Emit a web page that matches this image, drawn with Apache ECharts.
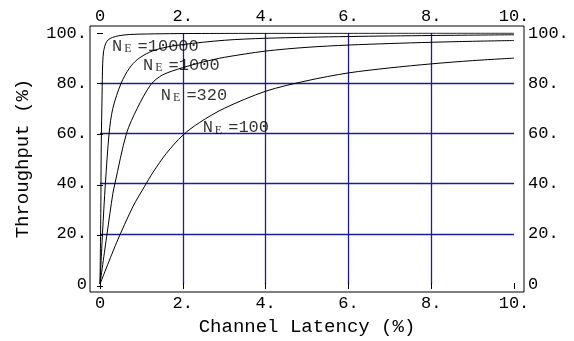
<!DOCTYPE html>
<html>
<head>
<meta charset="utf-8">
<script src="https://cdn.jsdelivr.net/npm/echarts@6/dist/echarts.min.js"></script>
<style>
html, body { margin: 0; padding: 0; background: #fff; }
#chart { width: 574px; height: 341px; }
</style>
</head>
<body>
<div id="chart"></div>
<script>
// curves, [latency, throughput]
var ne10000 = [[0, 0], [0.02, 30], [0.03, 55], [0.05, 75], [0.065, 88], [0.09, 93], [0.14, 95.9], [0.2, 97.3], [0.3, 98.2], [0.45, 98.9], [0.71, 99.4], [1.5, 99.7], [3, 99.85], [6, 99.9], [10, 99.95]];
var ne1000 = [[0, 0], [0.06, 20], [0.13, 40], [0.22, 60], [0.31, 70], [0.51, 80], [0.71, 86], [0.9, 89.4], [1.19, 92.3], [1.5, 94], [2, 95.4], [3, 97.1], [4, 97.9], [6, 98.6], [8, 99], [10, 99.3]];
var ne320 = [[0, 0], [0.17, 20], [0.31, 36], [0.36, 40], [0.64, 60], [0.9, 70], [1.23, 79.5], [1.51, 83.3], [2, 86.2], [2.5, 88.5], [3, 90.3], [4, 92.8], [5, 94.3], [6, 95.2], [7, 95.8], [8, 96.3], [9, 96.7], [10, 97]];
var ne100 = [[0, 0], [0.4, 16.5], [0.8, 31], [1.08, 39], [1.28, 44.5], [1.6, 52], [2, 59.3], [2.41, 64.4], [3, 70], [4, 76.8], [5, 81], [6, 84.1], [7, 86.1], [8, 87.7], [9, 89], [10, 90]];

var curveNames = ['10000', '1000', '320', '100'];
// where each N_E label starts, in data units
var labelX = [0.29, 1.04, 1.47, 2.48];
var labelY = [94.7, 87.2, 75.3, 62.3];

var xTicks = [0, 2, 4, 6, 8, 10];
var xTickLabels = ['0', '2.', '4.', '6.', '8.', '10.'];
var yTicks = [0, 20, 40, 60, 80, 100];
var yTickLabels = ['0', '20.', '40.', '60.', '80.', '100.'];

var myChart = echarts.init(document.getElementById('chart'));

var mono = 'Liberation Mono';
var gridBlue = '#1c1c96';

// plot area and the frame around it (frame is padded a little)
var plot = { left: 100, top: 33, right: 60, bottom: 55 };
var frame = { left: 90, top: 26, right: 50, bottom: 49 };
var plotW = 574 - plot.left - plot.right;
var plotH = 341 - plot.top - plot.bottom;
var xPad0 = (plot.left - frame.left) / plotW * 10;
var xPad1 = (plot.right - frame.right) / plotW * 10;
var yPad0 = (plot.bottom - frame.bottom) / plotH * 100;
var yPad1 = (plot.top - frame.top) / plotH * 100;

function xLabel(v) {
  return xTickLabels[xTicks.indexOf(v)];
}
function yLabel(v) {
  return yTickLabels[yTicks.indexOf(v)];
}

var tickText = { color: '#000', fontFamily: mono, fontSize: 17 };
var frameTick = { show: true, inside: true, length: 3, lineStyle: { color: '#000', width: 1 } };

var curves = [ne10000, ne1000, ne320, ne100];
var series = curves.map(function (c, i) {
  return {
    name: 'N_E=' + curveNames[i],
    type: 'line',
    xAxisIndex: 0,
    yAxisIndex: 0,
    data: c,
    showSymbol: false,
    smooth: 0.3,
    lineStyle: { color: '#000', width: 1 },
    z: 3
  };
});

series.push({
  type: 'scatter',
  xAxisIndex: 0,
  yAxisIndex: 0,
  symbolSize: 0,
  z: 4,
  data: curveNames.map(function (n, i) {
    return { name: n, value: [labelX[i], labelY[i]] };
  }),
  label: {
    show: true,
    position: 'right',
    distance: 0,
    formatter: function (p) {
      return '{n|N}{e|E}{t|=' + p.name + '}';
    },
    rich: {
      n: { fontFamily: mono, fontSize: 17, color: '#000', lineHeight: 18 },
      e: { fontFamily: 'Liberation Serif', fontSize: 12, color: '#000', lineHeight: 9, verticalAlign: 'bottom', padding: [0, 6, 0, 2] },
      t: { fontFamily: mono, fontSize: 17, color: '#000', lineHeight: 18 }
    }
  }
});

var option = {
  animation: false,
  backgroundColor: '#fff',
  grid: [
    Object.assign({}, plot),
    Object.assign({ show: true, borderColor: '#000', borderWidth: 1, backgroundColor: 'rgba(0,0,0,0)', z: 5 }, frame)
  ],
  xAxis: [
    {
      gridIndex: 0, type: 'value', min: 0, max: 10, interval: 2, position: 'bottom',
      axisLine: { show: false }, axisTick: { show: false },
      splitLine: { show: true, showMinLine: false, showMaxLine: false, lineStyle: { color: gridBlue, width: 1.3 } },
      axisLabel: Object.assign({ margin: 11, formatter: xLabel }, tickText),
      name: 'Channel Latency (%)', nameLocation: 'middle', nameGap: 31,
      nameTextStyle: { color: '#000', fontFamily: mono, fontSize: 19 }
    },
    {
      gridIndex: 0, type: 'value', min: 0, max: 10, interval: 2, position: 'top',
      axisLine: { show: false }, axisTick: { show: false }, splitLine: { show: false },
      axisLabel: Object.assign({ margin: 8, formatter: xLabel }, tickText)
    },
    {
      gridIndex: 1, type: 'value', min: -xPad0, max: 10 + xPad1, position: 'bottom',
      axisLine: { show: false }, axisLabel: { show: false }, splitLine: { show: false },
      axisTick: Object.assign({ customValues: xTicks }, frameTick)
    },
    {
      gridIndex: 1, type: 'value', min: -xPad0, max: 10 + xPad1, position: 'top',
      axisLine: { show: false }, axisLabel: { show: false }, splitLine: { show: false },
      axisTick: Object.assign({ customValues: xTicks }, frameTick)
    }
  ],
  yAxis: [
    {
      gridIndex: 0, type: 'value', min: 0, max: 100, interval: 20, position: 'left',
      axisLine: { show: false }, axisTick: { show: false },
      splitLine: { show: true, showMinLine: false, showMaxLine: false, lineStyle: { color: gridBlue, width: 1.3 } },
      axisLabel: Object.assign({ margin: 13, formatter: yLabel }, tickText),
      name: 'Throughput (%)', nameLocation: 'middle', nameGap: 68, nameRotate: 90,
      nameTextStyle: { color: '#000', fontFamily: mono, fontSize: 19 }
    },
    {
      gridIndex: 0, type: 'value', min: 0, max: 100, interval: 20, position: 'right',
      axisLine: { show: false }, axisTick: { show: false }, splitLine: { show: false },
      axisLabel: Object.assign({ margin: 14, formatter: yLabel }, tickText)
    },
    {
      gridIndex: 1, type: 'value', min: -yPad0, max: 100 + yPad1, position: 'left',
      axisLine: { show: false }, axisLabel: { show: false }, splitLine: { show: false },
      axisTick: Object.assign({ customValues: yTicks }, frameTick)
    },
    {
      gridIndex: 1, type: 'value', min: -yPad0, max: 100 + yPad1, position: 'right',
      axisLine: { show: false }, axisLabel: { show: false }, splitLine: { show: false },
      axisTick: Object.assign({ customValues: yTicks }, frameTick)
    }
  ],
  series: series
};

myChart.setOption(option);
</script>
</body>
</html>
